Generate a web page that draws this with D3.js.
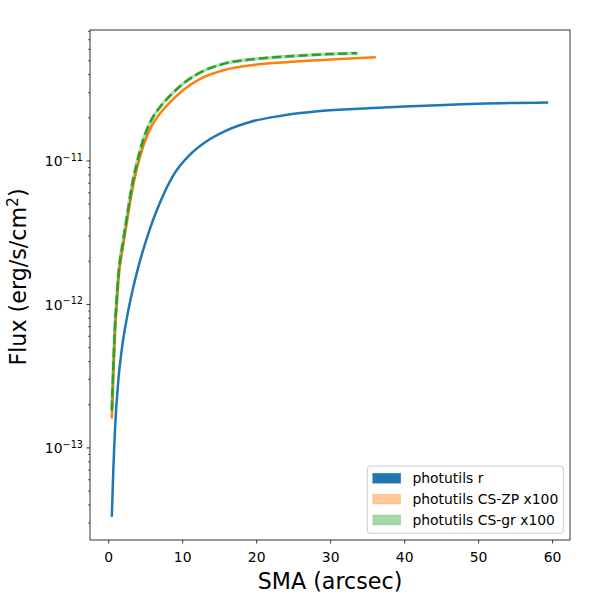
<!DOCTYPE html>
<html>
<head>
<meta charset="utf-8">
<script src="https://cdn.jsdelivr.net/npm/d3@7"></script>
<style>
  html, body { margin: 0; padding: 0; background: #fff; }
  svg { display: block; font-family: "DejaVu Sans", sans-serif; }
</style>
</head>
<body>
<svg id="chart" width="600" height="600"></svg>
<script>
// ---- data ----
const rSma  = [0.42, 0.63, 0.85, 1.3, 1.75, 2.43, 3.1, 4.0, 5.35, 6.93, 8.73, 10.99, 13.24, 15.95, 19.1, 23.15, 28.55, 35, 40, 50, 59.4];
const rFlux = [3.31e-14, 7.24e-14, 1.349e-13, 2.951e-13, 4.786e-13, 7.943e-13, 1.175e-12, 1.82e-12, 3.119e-12, 5.129e-12, 7.943e-12, 1.109e-11, 1.374e-11, 1.637e-11, 1.871e-11, 2.06e-11, 2.23e-11, 2.33e-11, 2.40e-11, 2.51e-11, 2.56e-11];

const zpSma  = [0.42, 0.63, 0.85, 1.08, 1.3, 1.97, 2.57, 3.1, 3.78, 4.68, 5.81, 7.16, 8.3, 10.08, 12.3, 15.5, 20.0, 24.5, 30, 36.1];
const zpFlux = [1.603e-13, 3.475e-13, 6.61e-13, 1.014e-12, 1.476e-12, 2.60e-12, 4.07e-12, 5.96e-12, 8.71e-12, 1.274e-11, 1.758e-11, 2.213e-11, 2.57e-11, 3.126e-11, 3.715e-11, 4.285e-11, 4.70e-11, 4.90e-11, 5.09e-11, 5.28e-11];

const grSma  = [0.42, 0.63, 0.85, 1.08, 1.3, 1.97, 2.57, 3.1, 3.78, 4.68, 5.81, 7.16, 8.3, 10.08, 12.3, 15.5, 20.0, 24.5, 30, 33.6];
const grFlux = [1.832e-13, 3.724e-13, 7.08e-13, 1.086e-12, 1.581e-12, 2.818e-12, 4.416e-12, 6.53e-12, 9.55e-12, 1.413e-11, 1.95e-11, 2.455e-11, 2.851e-11, 3.467e-11, 4.12e-11, 4.753e-11, 5.152e-11, 5.37e-11, 5.559e-11, 5.64e-11];

const xTicks = [0, 10, 20, 30, 40, 50, 60];
const yMajorExps = [-13, -12, -11];
const seriesNames = ["photutils r", "photutils CS-ZP x100", "photutils CS-gr x100"];
const seriesColors = ["#1f77b4", "#ff7f0e", "#2ca02c"];

// ---- layout ----
const svg = d3.select("#chart");
const L = 90, R = 570, T = 30, B = 540;

const allX = rSma.concat(zpSma, grSma);
const allY = rFlux.concat(zpFlux, grFlux);
const xmin = d3.min(allX), xmax = d3.max(allX);
const xpad = (xmax - xmin) * 0.05;
const lymin = Math.log10(d3.min(allY)), lymax = Math.log10(d3.max(allY));
const lpad = (lymax - lymin) * 0.05;

const x = d3.scaleLinear().domain([xmin - xpad, xmax + xpad]).range([L, R]);
const y = d3.scaleLog().domain([Math.pow(10, lymin - lpad), Math.pow(10, lymax + lpad)]).range([B, T]);

svg.append("defs").append("clipPath").attr("id", "clip")
  .append("rect").attr("x", L).attr("y", T).attr("width", R - L).attr("height", B - T);

const line = d3.line().x(d => x(d[0])).y(d => y(d[1])).curve(d3.curveMonotoneX);
const zip = (a, b) => a.map((v, i) => [v, b[i]]);

const g = svg.append("g").attr("clip-path", "url(#clip)");

// blue
g.append("path").attr("d", line(zip(rSma, rFlux)))
  .attr("fill", "none").attr("stroke", seriesColors[0]).attr("stroke-width", 2.5);
// orange
g.append("path").attr("d", line(zip(zpSma, zpFlux)))
  .attr("fill", "none").attr("stroke", seriesColors[1]).attr("stroke-width", 2.5);
// green band + dashed line
g.append("path").attr("d", line(zip(grSma, grFlux)))
  .attr("fill", "none").attr("stroke", seriesColors[2]).attr("stroke-opacity", 0.35).attr("stroke-width", 3.5);
g.append("path").attr("d", line(zip(grSma, grFlux)))
  .attr("fill", "none").attr("stroke", seriesColors[2]).attr("stroke-width", 2.5)
  .attr("stroke-dasharray", "9.25,4");

// ---- axes ----
const xAxis = svg.append("g");
xTicks.forEach(t => {
  const px = x(t);
  xAxis.append("line").attr("x1", px).attr("x2", px).attr("y1", B).attr("y2", B + 3.5)
    .attr("stroke", "#000").attr("stroke-width", 0.8);
  xAxis.append("text").attr("x", px).attr("y", 561.5).attr("text-anchor", "middle")
    .attr("font-size", 13.9).attr("fill", "#000").text(t);
});

const yAxis = svg.append("g");
const [d0, d1] = y.domain();
for (let e = Math.floor(Math.log10(d0)); e <= Math.ceil(Math.log10(d1)); e++) {
  for (let k = 1; k <= 9; k++) {
    const v = k * Math.pow(10, e);
    if (v < d0 || v > d1) continue;
    const py = y(v);
    const major = k === 1;
    yAxis.append("line").attr("x1", L).attr("x2", L - (major ? 3.5 : 2)).attr("y1", py).attr("y2", py)
      .attr("stroke", "#000").attr("stroke-width", major ? 0.8 : 0.6);
  }
}
yMajorExps.forEach(e => {
  const py = y(Math.pow(10, e));
  const t = yAxis.append("text").attr("x", 83).attr("y", py + 5.5).attr("text-anchor", "end")
    .attr("font-size", 13.9).attr("fill", "#000");
  t.append("tspan").text("10");
  t.append("tspan").attr("font-size", 9.7).attr("dy", -5.5).text("\u2212" + Math.abs(e));
});

// frame
svg.append("rect").attr("x", L).attr("y", T).attr("width", R - L).attr("height", B - T)
  .attr("fill", "none").attr("stroke", "#000").attr("stroke-width", 0.8);

// axis labels
svg.append("text").attr("x", (L + R) / 2).attr("y", 589).attr("text-anchor", "middle")
  .attr("font-size", 22.2).attr("fill", "#000").text("SMA (arcsec)");
const yl = svg.append("text").attr("transform", "translate(26,277) rotate(-90)")
  .attr("text-anchor", "middle").attr("font-size", 22.2).attr("fill", "#000");
yl.append("tspan").text("Flux (erg/s/cm");
yl.append("tspan").attr("font-size", 15.5).attr("dy", -8).text("2");
yl.append("tspan").attr("dy", 8).text(")");

// legend
const lg = svg.append("g");
lg.append("rect").attr("x", 367.3).attr("y", 466).attr("width", 196).attr("height", 67.3)
  .attr("rx", 3).attr("fill", "#fff").attr("fill-opacity", 0.8)
  .attr("stroke", "#cccccc").attr("stroke-width", 1);
const legendAlpha = [1, 0.42, 0.42];
seriesNames.forEach((name, i) => {
  const cy = 478.3 + i * 20.85;
  lg.append("rect").attr("x", 372.8).attr("y", cy - 4.9).attr("width", 27.8).attr("height", 9.7)
    .attr("fill", seriesColors[i]).attr("fill-opacity", legendAlpha[i])
    .attr("stroke", seriesColors[i]).attr("stroke-opacity", legendAlpha[i] * 0.6).attr("stroke-width", 1);
  lg.append("text").attr("x", 412.5).attr("y", cy + 5).attr("font-size", 13.9).attr("fill", "#000").text(name);
});
</script>
</body>
</html>
